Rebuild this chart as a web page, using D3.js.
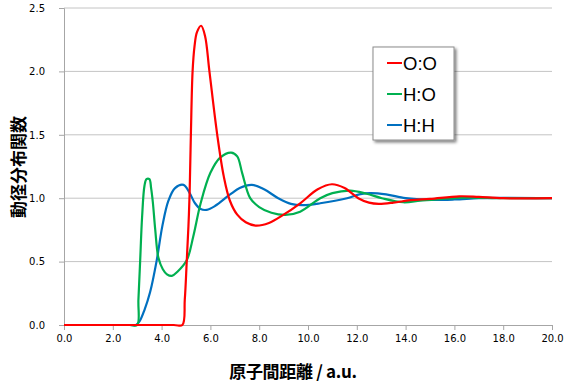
<!DOCTYPE html>
<html>
<head>
<meta charset="utf-8">
<script src="https://cdn.jsdelivr.net/npm/d3@7"></script>
<style>
  body { margin: 0; background: #fff; }
  svg { display: block; }
  .tick text { font-family: "DejaVu Sans", Verdana, sans-serif; font-size: 10px; fill: #000; }
</style>
</head>
<body>
<div id="chart"></div>
<script>
// radial distribution functions
const seriesNames = ['O:O', 'H:O', 'H:H'];
const seriesColors = ['#ff0000', '#00b050', '#0070c0'];

const ooX = [0, 4.5, 4.85, 4.95, 5.03, 5.1, 5.15, 5.2, 5.27, 5.35, 5.45, 5.62, 5.78, 5.96, 6.28, 6.55, 6.8, 7.1, 7.45, 7.85, 8.4, 9.0, 9.68, 10.4, 10.98, 11.5, 12.06, 12.5, 12.9, 13.5, 14.2, 15.0, 16.2, 17.0, 18.0, 20.0];
const ooY = [0, 0, 0, 0.2, 0.5, 0.78, 1.05, 1.5, 2.0, 2.2, 2.31, 2.36, 2.28, 2.0, 1.5, 1.17, 0.98, 0.87, 0.81, 0.784, 0.805, 0.87, 0.96, 1.07, 1.11, 1.08, 1.0, 0.965, 0.955, 0.965, 0.985, 0.995, 1.015, 1.01, 1.0, 1.0];

const hoX = [0, 2.7, 3.0, 3.05, 3.12, 3.2, 3.3, 3.38, 3.5, 3.57, 3.64, 3.74, 3.87, 4.05, 4.22, 4.42, 4.65, 5.03, 5.3, 5.6, 6.0, 6.4, 6.85, 7.1, 7.3, 7.63, 8.0, 8.5, 9.07, 9.68, 10.5, 11.0, 11.73, 12.4, 13.03, 13.9, 14.6, 15.5, 16.5, 18.0, 20.0];
const hoY = [0, 0, 0, 0.2, 0.5, 0.85, 1.1, 1.15, 1.15, 1.08, 0.97, 0.75, 0.53, 0.44, 0.4, 0.387, 0.42, 0.51, 0.7, 0.96, 1.2, 1.32, 1.36, 1.33, 1.2, 1.0, 0.93, 0.885, 0.868, 0.894, 1.0, 1.04, 1.06, 1.035, 1.0, 0.968, 0.98, 0.995, 1.005, 1.0, 1.0];

const hhX = [0, 2.7, 2.95, 3.1, 3.3, 3.53, 3.8, 4.03, 4.28, 4.55, 4.9, 5.15, 5.37, 5.6, 5.85, 6.2, 6.81, 7.2, 7.7, 8.2, 8.78, 9.3, 9.8, 10.5, 11.6, 12.1, 12.55, 13.2, 14.0, 15.0, 16.0, 17.0, 18.0, 20.0];
const hhY = [0, 0, 0, 0.03, 0.12, 0.26, 0.51, 0.78, 0.98, 1.08, 1.105, 1.04, 0.96, 0.915, 0.908, 0.94, 1.03, 1.08, 1.105, 1.07, 1.0, 0.955, 0.945, 0.96, 1.0, 1.03, 1.04, 1.03, 1.0, 0.987, 0.99, 1.0, 1.003, 1.0];

const xTicks = [0, 2, 4, 6, 8, 10, 12, 14, 16, 18, 20];
const yTicks = [0, 0.5, 1.0, 1.5, 2.0, 2.5];
const xTitle = '原子間距離 / a.u.';
const yTitle = '動径分布関数';

const width = 569, height = 386;
const margin = { top: 8, right: 17, bottom: 61, left: 64 };
const innerW = width - margin.left - margin.right;
const innerH = height - margin.top - margin.bottom;

const svg = d3.select('#chart').append('svg')
    .attr('width', width)
    .attr('height', height);

const defs = svg.append('defs');
const shadow = defs.append('filter').attr('id', 'shadow')
    .attr('x', '-20%').attr('y', '-20%').attr('width', '140%').attr('height', '140%');
shadow.append('feGaussianBlur').attr('in', 'SourceAlpha').attr('stdDeviation', 1.5);
shadow.append('feOffset').attr('dx', 2).attr('dy', 2).attr('result', 'blur');
shadow.append('feComponentTransfer').append('feFuncA').attr('type', 'linear').attr('slope', 0.5);
const merge = shadow.append('feMerge');
merge.append('feMergeNode');
merge.append('feMergeNode').attr('in', 'SourceGraphic');

const g = svg.append('g')
    .attr('transform', `translate(${margin.left},${margin.top})`);

const x = d3.scaleLinear().domain([0, 20]).range([0, innerW]);
const y = d3.scaleLinear().domain([0, 2.5]).range([innerH, 0]);

// gridlines
g.append('g')
    .selectAll('line')
    .data(yTicks.filter(d => d > 0))
    .join('line')
    .attr('x1', 0).attr('x2', innerW)
    .attr('y1', d => y(d)).attr('y2', d => y(d))
    .attr('stroke', '#c4c4c4')
    .attr('stroke-width', 1);

// axes
const xAxis = g.append('g')
    .attr('transform', `translate(0,${innerH})`)
    .call(d3.axisBottom(x).tickValues(xTicks).tickFormat(d3.format('.1f')).tickSize(5).tickPadding(5));
const yAxis = g.append('g')
    .call(d3.axisLeft(y).tickValues(yTicks).tickFormat(d3.format('.1f')).tickSize(5).tickPadding(14));
[xAxis, yAxis].forEach(a => {
    a.select('.domain').attr('stroke', '#a6a6a6').attr('stroke-width', 1);
    a.selectAll('.tick line').attr('stroke', '#a6a6a6');
});

// lines
const seriesData = [
    d3.zip(ooX, ooY),
    d3.zip(hoX, hoY),
    d3.zip(hhX, hhY)
];
const line = d3.line()
    .x(d => x(d[0]))
    .y(d => y(d[1]))
    .curve(d3.curveCatmullRom.alpha(0.5));

g.append('g')
    .selectAll('path')
    .data([2, 1, 0])
    .join('path')
    .attr('d', i => line(seriesData[i]))
    .attr('fill', 'none')
    .attr('stroke', i => seriesColors[i])
    .attr('stroke-width', 2.2)
    .attr('stroke-linejoin', 'round');

// legend
const legend = svg.append('g').attr('transform', 'translate(373,47)');
legend.append('rect')
    .attr('width', 81).attr('height', 93)
    .attr('fill', '#fff')
    .attr('stroke', '#8c8c8c')
    .attr('filter', 'url(#shadow)');
seriesNames.forEach((name, i) => {
    const row = legend.append('g').attr('transform', `translate(0,${16 + i * 31})`);
    row.append('line')
        .attr('x1', 14).attr('x2', 29)
        .attr('stroke', seriesColors[i]).attr('stroke-width', 2);
    row.append('text')
        .attr('x', 30).attr('dy', '0.36em')
        .attr('font-family', 'Liberation Sans, Arial, sans-serif')
        .attr('font-size', 18.5)
        .text(name);
});

// axis titles
svg.append('text')
    .attr('x', 293).attr('y', 378)
    .attr('text-anchor', 'middle')
    .attr('font-family', '"Noto Sans CJK JP", sans-serif')
    .attr('font-weight', 'bold')
    .attr('font-size', 17)
    .attr('letter-spacing', -0.3)
    .text(xTitle);
svg.append('text')
    .attr('transform', 'translate(25,167) rotate(-90)')
    .attr('text-anchor', 'middle')
    .attr('font-family', '"Noto Sans CJK JP", sans-serif')
    .attr('font-weight', 'bold')
    .attr('font-size', 17)
    .text(yTitle);
</script>
</body>
</html>
